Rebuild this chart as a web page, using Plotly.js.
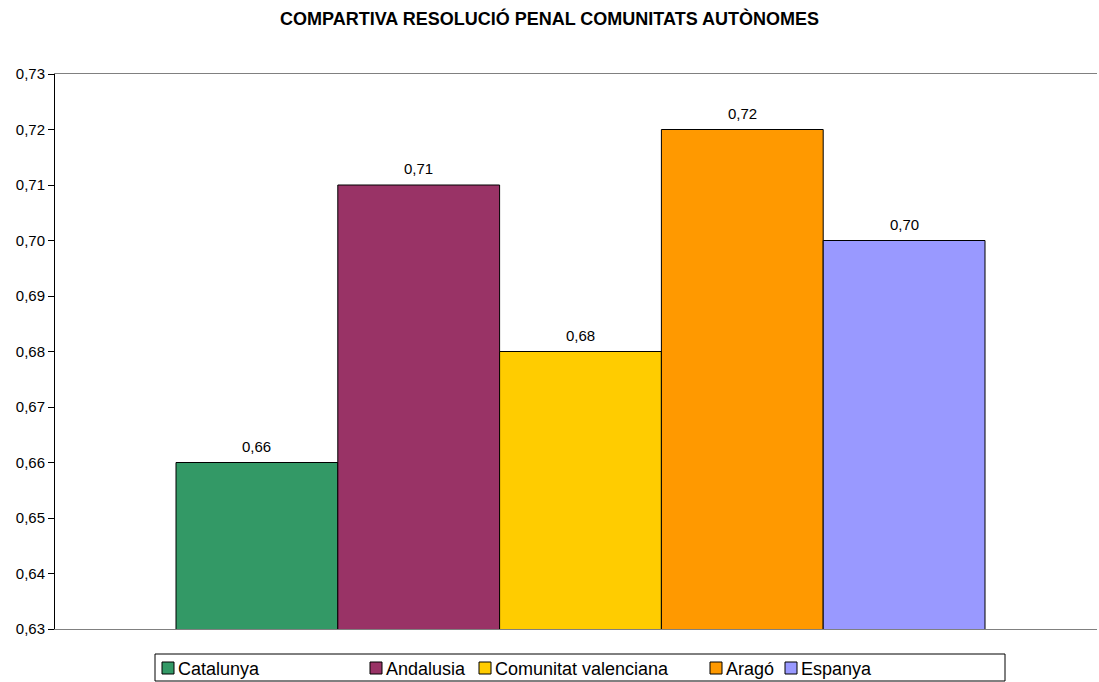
<!DOCTYPE html>
<html>
<head>
<meta charset="utf-8">
<script src="https://cdn.plot.ly/plotly-3.0.1.min.js"></script>
<style>html,body{margin:0;padding:0;background:#fff;}#chart{width:1099px;height:682px;}</style>
</head>
<body>
<div id="chart"></div>
<script>
const seriesNames = ["Catalunya", "Andalusia", "Comunitat valenciana", "Aragó", "Espanya"];
const seriesValues = [0.66, 0.71, 0.68, 0.72, 0.70];
const seriesColors = ["#339966", "#993366", "#FFCC00", "#FF9900", "#9999FF"];
const category = [""];
const chartTitle = "COMPARTIVA RESOLUCIÓ PENAL COMUNITATS AUTÒNOMES";

const W = 1099, H = 682;
const L = 55, R = 1097, T = 74, B = 629;
const FONT = "Liberation Sans, Arial, sans-serif";
const px2x = p => (p - L) / (R - L);
const py2y = p => (B - p) / (B - T);
const bargap = 1 - 809 / (R - L);
const groupW = 1 - bargap;
const nS = seriesNames.length;

const traces = seriesNames.map((n, i) => ({
  type: "bar",
  name: n,
  x: category,
  y: [seriesValues[i]],
  marker: {color: seriesColors[i], line: {color: "#000", width: 1}},
  hoverinfo: "skip",
  showlegend: false
}));

const annotations = [];
// value labels above bars
seriesNames.forEach((n, i) => {
  annotations.push({
    xref: "x", yref: "y",
    x: -groupW / 2 + (i + 0.5) * groupW / nS,
    y: seriesValues[i],
    text: seriesValues[i].toFixed(2).replace(".", ","),
    showarrow: false, xanchor: "center", yanchor: "bottom", yshift: 6,
    font: {family: FONT, size: 15, color: "#000"}
  });
});

// custom legend
const legendSquares = [162, 370, 479, 710, 785];
const shapes = [{
  type: "rect", xref: "paper", yref: "paper",
  x0: px2x(155), x1: px2x(1005), y0: py2y(654), y1: py2y(681),
  line: {color: "#000", width: 1}, fillcolor: "rgba(0,0,0,0)"
}];
seriesNames.forEach((n, i) => {
  const sx = legendSquares[i];
  shapes.push({
    type: "rect", xref: "paper", yref: "paper",
    x0: px2x(sx), x1: px2x(sx + 12), y0: py2y(662), y1: py2y(674),
    line: {color: "#000", width: 1}, fillcolor: seriesColors[i]
  });
  annotations.push({
    xref: "paper", yref: "paper", x: px2x(sx + 14), y: py2y(668.5),
    xanchor: "left", yanchor: "middle", showarrow: false, text: n,
    font: {family: FONT, size: 18, color: "#000"}
  });
});

const off = 4.5 / (R - L);
const layout = {
  width: W, height: H,
  margin: {l: L, r: W - R, t: T, b: H - B, pad: 0},
  paper_bgcolor: "#fff", plot_bgcolor: "#fff",
  separators: ",.",
  title: {text: "<b>" + chartTitle + "</b>", x: 0.5, xanchor: "center", y: 1 - 19 / H, yanchor: "middle",
          font: {family: FONT, size: 18, color: "#000"}},
  barmode: "group",
  bargap: bargap,
  bargroupgap: 0,
  showlegend: false,
  xaxis: {range: [-0.5 - off, 0.5 - off], showticklabels: false, ticks: "", showgrid: false,
          zeroline: false, showline: true, linecolor: "#808080", linewidth: 1, mirror: true, fixedrange: true},
  yaxis: {range: [0.63, 0.73], dtick: 0.01, tick0: 0.63, tickformat: ".2f", showgrid: false, zeroline: false,
          showline: true, linecolor: "#000", linewidth: 1, ticks: "outside", ticklen: 6, tickcolor: "#000",
          tickfont: {family: FONT, size: 15, color: "#000"}, fixedrange: true},
  shapes: shapes,
  annotations: annotations
};

Plotly.newPlot("chart", traces, layout, {displayModeBar: false, staticPlot: true});
</script>
</body>
</html>
